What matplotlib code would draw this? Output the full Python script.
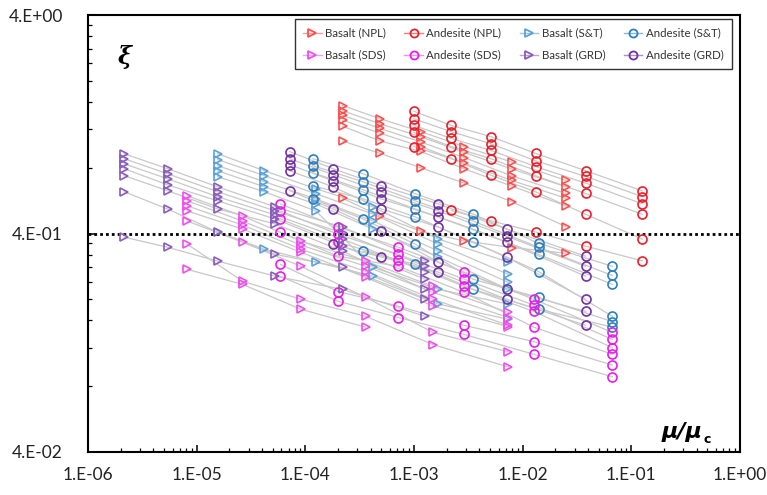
import numpy as np
import matplotlib
matplotlib.use('Agg')
import matplotlib.pyplot as plt
from matplotlib.ticker import FixedLocator, FixedFormatter, LogLocator, NullFormatter
from matplotlib.lines import Line2D

nan = np.nan

# ---------------- data (x = mu/mu_c columns, y = xi for each curve) ----------------
x_basalt_npl = [2.2e-4, 4.9e-4, 1.15e-3, 2.9e-3, 7.9e-3, 2.5e-2]
y_basalt_npl = [
    [1.54, 1.34, 1.17, 1.00, 0.85, 0.70],
    [1.46, 1.27, 1.11, 0.94, 0.79, 0.655],
    [1.39, 1.21, 1.05, 0.89, 0.735, 0.61],
    [1.32, 1.15, 1.00, 0.84, 0.70, 0.58],
    [1.24, 1.06, 0.95, 0.79, 0.66, 0.535],
    [1.06, 0.93, 0.80, 0.68, 0.56, 0.43],
    [0.58, 0.48, 0.41, 0.37, 0.345, 0.325],
]

x_andesite_npl = [1.0e-3, 2.2e-3, 5.1e-3, 1.32e-2, 3.8e-2, 0.126]
y_andesite_npl = [
    [1.45, 1.25, 1.11, 0.93, 0.775, 0.627],
    [1.34, 1.17, 1.03, 0.86, 0.73, 0.59],
    [1.25, 1.09, 0.96, 0.81, 0.68, 0.547],
    [1.16, 1.00, 0.88, 0.735, 0.61, 0.49],
    [1.00, 0.88, 0.74, 0.62, 0.49, 0.377],
    [nan, 0.51, 0.457, 0.406, 0.35, 0.30],
]

x_basalt_st = [1.56e-5, 4.2e-5, 1.25e-4, 4.2e-4, 1.68e-3, 7.4e-3]
y_basalt_st = [
    [0.927, 0.775, 0.641, 0.529, 0.377, 0.296],
    [0.871, 0.736, 0.608, 0.491, 0.357, 0.260],
    [0.818, 0.690, 0.576, 0.456, 0.332, 0.239],
    [0.775, 0.654, 0.546, 0.419, 0.312, 0.222],
    [0.728, 0.621, 0.507, 0.280, 0.222, 0.190],
    [0.406, 0.339, 0.296, 0.255, 0.190, 0.162],
]

x_andesite_st = [1.17e-4, 3.4e-4, 1.03e-3, 3.5e-3, 1.4e-2, 6.7e-2]
y_andesite_st = [
    [0.880, 0.751, 0.608, 0.491, 0.361, 0.283],
    [0.818, 0.690, 0.564, 0.456, 0.346, 0.257],
    [0.759, 0.634, 0.518, 0.419, 0.321, 0.234],
    [0.662, 0.576, 0.476, 0.365, 0.268, 0.167],
    [0.576, 0.466, 0.357, 0.247, 0.204, 0.158],
    [nan, 0.332, 0.289, 0.222, 0.180, 0.149],
]

x_basalt_sds = [8.2e-6, 2.65e-5, 9.1e-5, 3.6e-4, 1.5e-3, 7.4e-3]
y_basalt_sds = [
    [0.595, 0.481, 0.369, 0.299, 0.229, 0.174],
    [0.564, 0.456, 0.354, 0.283, 0.215, 0.165],
    [0.535, 0.437, 0.339, 0.268, 0.200, 0.152],
    [0.507, 0.419, 0.328, 0.252, 0.186, 0.150],
    [0.456, 0.365, 0.283, 0.204, 0.141, 0.115],
    [0.357, 0.242, 0.200, 0.167, 0.124, 0.098],
    [0.274, 0.234, 0.180, 0.149, nan, nan],
]

x_andesite_sds = [5.9e-5, 2.0e-4, 7.2e-4, 2.9e-3, 1.27e-2, 6.7e-2]
y_andesite_sds = [
    [0.546, 0.428, 0.346, 0.266, 0.200, 0.141],
    [0.507, 0.397, 0.321, 0.247, 0.188, 0.131],
    [0.466, 0.365, 0.302, 0.229, 0.176, 0.120],
    [0.406, 0.315, 0.283, 0.215, 0.149, 0.112],
    [0.289, 0.217, 0.186, 0.152, 0.128, 0.100],
    [0.255, 0.196, 0.165, 0.138, 0.112, 0.0884],
]

x_basalt_grd = [2.15e-6, 5.4e-6, 1.56e-5, 5.3e-5, 2.2e-4, 1.27e-3]
y_basalt_grd = [
    [0.927, 0.792, 0.654, 0.529, 0.428, 0.299],
    [0.880, 0.751, 0.621, 0.507, 0.402, 0.283],
    [0.834, 0.712, 0.589, 0.486, 0.377, 0.268],
    [0.792, 0.668, 0.564, 0.466, 0.350, 0.247],
    [0.736, 0.628, 0.518, 0.442, 0.332, 0.222],
    [0.621, 0.518, 0.406, 0.321, 0.280, 0.200],
    [0.385, 0.346, 0.299, 0.255, 0.222, 0.167],
]

x_andesite_grd = [7.2e-5, 1.8e-4, 5.0e-4, 1.68e-3, 7.1e-3, 3.8e-2]
y_andesite_grd = [
    [0.948, 0.792, 0.662, 0.546, 0.419, 0.315],
    [0.880, 0.743, 0.621, 0.507, 0.389, 0.283],
    [0.826, 0.697, 0.576, 0.476, 0.365, 0.255],
    [0.775, 0.654, 0.518, 0.428, 0.312, 0.200],
    [0.628, 0.518, 0.410, 0.296, 0.222, 0.176],
    [nan, 0.357, 0.312, 0.266, 0.200, 0.152],
]

series_names = ['Basalt (NPL)', 'Andesite (NPL)', 'Basalt (S&T)', 'Andesite (S&T)',
                'Basalt (SDS)', 'Andesite (SDS)', 'Basalt (GRD)', 'Andesite (GRD)']

x_ticks = [1e-6, 1e-5, 1e-4, 1e-3, 1e-2, 1e-1, 1e0]
x_tick_labels = ['1.E-06', '1.E-05', '1.E-04', '1.E-03', '1.E-02', '1.E-01', '1.E+00']
y_ticks = [0.04, 0.4, 4.0]
y_tick_labels = ['4.E-02', '4.E-01', '4.E+00']
y_minor = [0.08, 0.12, 0.16, 0.20, 0.24, 0.28, 0.32, 0.36,
           0.8, 1.2, 1.6, 2.0, 2.4, 2.8, 3.2, 3.6]
threshold = 0.4

# ---------------- styling ----------------
groups = [
    (x_basalt_npl, y_basalt_npl, '>', '#ff5050', '#ff9a9a'),
    (x_andesite_npl, y_andesite_npl, 'o', '#e8202c', '#f08080'),
    (x_basalt_st, y_basalt_st, '>', '#5aa2da', '#9cc6ea'),
    (x_andesite_st, y_andesite_st, 'o', '#2f7fbf', '#8ab6dc'),
    (x_basalt_sds, y_basalt_sds, '>', '#ef4fef', '#f4a0f4'),
    (x_andesite_sds, y_andesite_sds, 'o', '#e81ee8', '#f090f0'),
    (x_basalt_grd, y_basalt_grd, '>', '#8a5cbc', '#b8a0d8'),
    (x_andesite_grd, y_andesite_grd, 'o', '#7232a2', '#ab8ccc'),
]

fig = plt.figure(figsize=(7.67, 4.95), dpi=100)
ax = fig.add_axes([88 / 767, (495 - 452) / 495, 652 / 767, 437 / 495])
ax.set_xscale('log')
ax.set_yscale('log')
ax.set_xlim(1e-6, 1e0)
ax.set_ylim(0.04, 4.0)

handles = []
for (xs, ys, mk, col, lcol), name in zip(groups, series_names):
    for yc in ys:
        ax.plot(xs, yc, color='#c8c8c8', lw=0.9, zorder=1)
    for yc in ys:
        ax.plot(xs, yc, ls='none', marker=mk, mfc='none', mec=col,
                ms=6.5 if mk == 'o' else 6.2, mew=1.2, zorder=3)
    handles.append(Line2D([], [], color=lcol, lw=1.0, marker=mk, mfc='none',
                          mec=col, ms=5.8 if mk == 'o' else 5.2, mew=1.3, label=name))

ax.axhline(threshold, color='black', lw=2.0, ls=(0, (1, 1.1)), zorder=2.5,
           dash_capstyle='butt')

# ticks
ax.xaxis.set_major_locator(FixedLocator(x_ticks))
ax.xaxis.set_major_formatter(FixedFormatter(x_tick_labels))
ax.xaxis.set_minor_locator(LogLocator(base=10, subs=np.arange(2, 10), numticks=20))
ax.xaxis.set_minor_formatter(NullFormatter())
ax.yaxis.set_major_locator(FixedLocator(y_ticks))
ax.yaxis.set_major_formatter(FixedFormatter(y_tick_labels))
ax.yaxis.set_minor_locator(FixedLocator(y_minor))
ax.yaxis.set_minor_formatter(NullFormatter())

ax.tick_params(axis='both', which='major', direction='in', length=5, width=1.1,
               labelsize=12.5, colors='black', labelcolor='#222222')
ax.tick_params(axis='both', which='minor', direction='in', length=3, width=0.9)
ax.tick_params(axis='x', which='major', pad=11)
ax.tick_params(axis='y', which='major', pad=18)
ax.tick_params(top=False, right=False, which='both')
for lab in ax.get_xticklabels() + ax.get_yticklabels():
    lab.set_family('Lato')
for sp in ax.spines.values():
    sp.set_linewidth(1.5)
    sp.set_color('black')

# axis titles
ax.text(30 / 652, 1 - (57 - 15) / 437, 'ξ', transform=ax.transAxes,
        fontsize=17, fontweight='bold', fontstyle='italic', family='DejaVu Serif',
        ha='left', va='center')
t1 = ax.text((662 - 88) / 652, 1 - (438 - 15) / 437, 'μ/μ', transform=ax.transAxes,
             fontsize=16, fontweight='bold', fontstyle='italic', family='DejaVu Sans',
             ha='left', va='baseline')
fig.canvas.draw()
bb = t1.get_window_extent()
xr, yb = ax.transAxes.inverted().transform((bb.x1, bb.y0))
ax.text(xr + 0.001, 1 - (443 - 15) / 437, 'c', transform=ax.transAxes,
        fontsize=9, fontweight='bold', family='DejaVu Sans', ha='left', va='baseline')

# legend (column-major ordering so rows read as in the reference)
order = [0, 4, 1, 5, 2, 6, 3, 7]
leg = ax.legend([handles[i] for i in order], [series_names[i] for i in order],
                ncol=4, loc='upper right', bbox_to_anchor=((732 - 88) / 652, 1 - (19 - 15) / 437),
                borderaxespad=0, frameon=True, fancybox=False,
                handlelength=1.6, handletextpad=0.3, columnspacing=1.6,
                borderpad=0.75, labelspacing=0.95, prop={'family': 'Lato', 'size': 8.3})
leg.get_frame().set_edgecolor('black')
leg.get_frame().set_linewidth(1.0)
for txt in leg.get_texts():
    txt.set_color('#333333')

fig.savefig('out.png', dpi=100)
